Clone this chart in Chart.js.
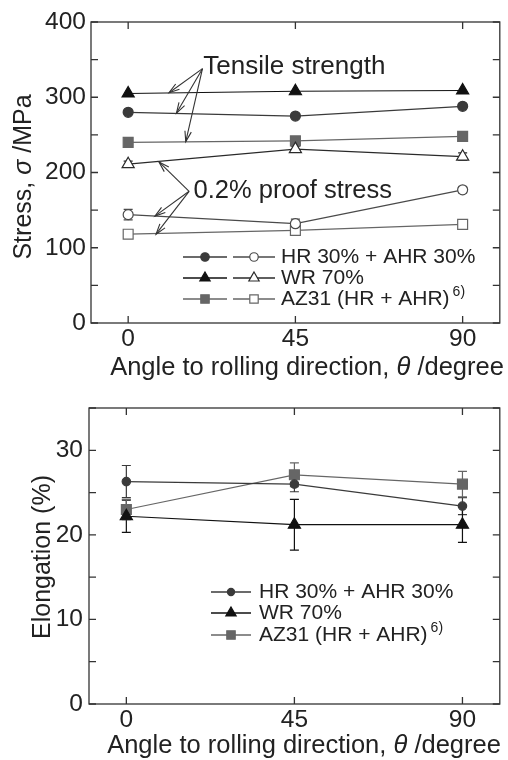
<!DOCTYPE html>
<html>
<head>
<meta charset="utf-8">
<script src="https://cdn.jsdelivr.net/npm/chart.js@4.4.1/dist/chart.umd.min.js"></script>
<style>
  html, body { margin: 0; padding: 0; background: #fff; }
  canvas { display: block; }
</style>
</head>
<body>
<canvas id="stress" width="508" height="380"></canvas>
<canvas id="elong" width="508" height="380"></canvas>
<script>
// ---- data ----
const angles = [0, 45, 90];
const xTicks = [0, 45, 90];

// stress (MPa)
const hrTensile = [280, 275, 288];
const hrProof = [144, 132, 177];
const hrProofErr = [7, 6, 4];
const wrTensile = [305, 308, 309];
const wrProof = [211, 231, 221];
const wrProofErr = [4, 4, 5];
const azTensile = [240, 242, 248];
const azProof = [118, 123, 131];
const azProofErr = [0, 0, 0];

// elongation (%)
const hrElong = [26.3, 26.0, 23.4];
const hrElongErr = [1.9, 0.9, 1.0];
const wrElong = [22.2, 21.2, 21.2];
const wrElongErr = [1.9, 3.0, 2.1];
const azElong = [23.0, 27.1, 26.0];
const azElongErr = [1.2, 1.4, 1.5];

const seriesNames = ['HR 30% + AHR 30%', 'WR 70%', 'AZ31 (HR + AHR)'];

// annotation arrows, in data units [x, y]
const tensileLabelAt = [20.2, 340];
const tensileArrowFrom = [20, 338];
const tensileArrowTo = [[11, 306], [13, 279], [15.5, 241]];
const proofLabelAt = [17.6, 176];
const proofArrowFrom = [16.4, 175];
const proofArrowTo = [[8.3, 214], [7.2, 142], [7.5, 118]];

const FONT = "'Liberation Sans', Arial, sans-serif";
const INK = '#222';

function makeSet(label, values, errors, color, style, radius, filled) {
  return {
    label: label,
    data: angles.map((a, i) => ({ x: a, y: values[i] })),
    errors: errors,
    showLine: true,
    borderColor: color,
    borderWidth: 1.2,
    pointStyle: style,
    pointRadius: radius,
    pointHoverRadius: radius,
    pointBackgroundColor: filled ? color : '#fff',
    pointBorderColor: color,
    pointBorderWidth: 1.2,
    clip: false
  };
}

function drawMarker(ctx, ds, x, y, scale) {
  ctx.save();
  ctx.fillStyle = ds.pointBackgroundColor;
  ctx.strokeStyle = ds.pointBorderColor;
  ctx.lineWidth = ds.pointBorderWidth;
  Chart.helpers.drawPoint(ctx, {
    pointStyle: ds.pointStyle,
    radius: ds.pointRadius * scale,
    rotation: 0,
    borderWidth: ds.pointBorderWidth
  }, x, y);
  ctx.restore();
}

function drawMixed(ctx, parts, x, y, align) {
  // parts: [text, italic, size]
  let total = 0;
  parts.forEach(p => { ctx.font = (p[1] ? 'italic ' : '') + p[2] + 'px ' + FONT; total += ctx.measureText(p[0]).width; });
  let cx = align === 'center' ? x - total / 2 : x;
  ctx.textAlign = 'left';
  parts.forEach(p => {
    ctx.font = (p[1] ? 'italic ' : '') + p[2] + 'px ' + FONT;
    ctx.fillText(p[0], cx, y);
    cx += ctx.measureText(p[0]).width;
  });
}

function arrow(ctx, x1, y1, x2, y2) {
  const ang = Math.atan2(y2 - y1, x2 - x1);
  const len = 11, spread = 0.3;
  ctx.beginPath();
  ctx.moveTo(x1, y1);
  ctx.lineTo(x2, y2);
  ctx.stroke();
  ctx.beginPath();
  ctx.moveTo(x2 - len * Math.cos(ang - spread), y2 - len * Math.sin(ang - spread));
  ctx.lineTo(x2, y2);
  ctx.lineTo(x2 - len * Math.cos(ang + spread), y2 - len * Math.sin(ang + spread));
  ctx.stroke();
}

// frame, inward ticks, error bars, titles, legend and notes
const decor = {
  id: 'decor',
  beforeDatasetsDraw(chart, args, opts) {
    const ctx = chart.ctx, xs = chart.scales.x, ys = chart.scales.y;
    ctx.save();
    chart.data.datasets.forEach((ds, i) => {
      if (!ds.errors) return;
      ctx.strokeStyle = ds.borderColor;
      ctx.lineWidth = 1.2;
      ds.data.forEach((p, j) => {
        const e = ds.errors[j];
        if (!e) return;
        const px = xs.getPixelForValue(p.x);
        const top = ys.getPixelForValue(p.y + e), bot = ys.getPixelForValue(p.y - e);
        ctx.beginPath();
        ctx.moveTo(px, top); ctx.lineTo(px, bot);
        ctx.moveTo(px - 4.5, top); ctx.lineTo(px + 4.5, top);
        ctx.moveTo(px - 4.5, bot); ctx.lineTo(px + 4.5, bot);
        ctx.stroke();
      });
    });
    ctx.restore();
  },
  afterDatasetsDraw(chart, args, opts) {
    const ctx = chart.ctx, a = chart.chartArea, xs = chart.scales.x, ys = chart.scales.y;
    ctx.save();
    ctx.strokeStyle = '#333';
    ctx.lineWidth = 1.3;
    ctx.strokeRect(a.left, a.top, a.right - a.left, a.bottom - a.top);
    const tl = 7;
    ctx.beginPath();
    xTicks.forEach(v => {
      const px = xs.getPixelForValue(v);
      ctx.moveTo(px, a.bottom); ctx.lineTo(px, a.bottom - tl);
      ctx.moveTo(px, a.top); ctx.lineTo(px, a.top + tl);
    });
    for (let v = ys.min; v <= ys.max; v += opts.yStep) {
      const py = ys.getPixelForValue(v);
      ctx.moveTo(a.left, py); ctx.lineTo(a.left + tl, py);
      ctx.moveTo(a.right, py); ctx.lineTo(a.right - tl, py);
    }
    ctx.stroke();

    // axis titles
    ctx.fillStyle = INK;
    ctx.textBaseline = 'alphabetic';
    drawMixed(ctx, [['Angle to rolling direction, ', false, 25.5], ['\u03b8', true, 25.5], [' /degree', false, 25.5]],
      opts.xTitle[0], opts.xTitle[1], 'center');
    ctx.save();
    ctx.translate(opts.yTitle[0], opts.yTitle[1]);
    ctx.rotate(-Math.PI / 2);
    drawMixed(ctx, opts.yTitleParts, 0, 0, 'center');
    ctx.restore();

    // notes with arrows
    if (opts.notes) {
      ctx.strokeStyle = '#333';
      ctx.lineWidth = 1.1;
      opts.notes.forEach(n => {
        const fx = xs.getPixelForValue(n.from[0]), fy = ys.getPixelForValue(n.from[1]);
        n.to.forEach(t => arrow(ctx, fx, fy, xs.getPixelForValue(t[0]), ys.getPixelForValue(t[1])));
        ctx.font = n.size + 'px ' + FONT;
        ctx.textAlign = 'left';
        ctx.textBaseline = 'middle';
        ctx.fillText(n.text, xs.getPixelForValue(n.at[0]), ys.getPixelForValue(n.at[1]));
      });
    }

    // legend
    const ds = chart.data.datasets;
    opts.legend.rows.forEach((row, r) => {
      const y = opts.legend.y[r];
      row.sets.forEach((k, s) => {
        const seg = opts.legend.segs[s];
        ctx.strokeStyle = ds[k].borderColor;
        ctx.lineWidth = 1.3;
        ctx.beginPath();
        ctx.moveTo(seg[0], y); ctx.lineTo(seg[1], y);
        ctx.stroke();
        drawMarker(ctx, ds[k], (seg[0] + seg[1]) / 2, y, 0.85);
      });
      ctx.fillStyle = INK;
      ctx.font = '21px ' + FONT;
      ctx.textAlign = 'left';
      ctx.textBaseline = 'middle';
      ctx.fillText(row.text, opts.legend.textX, y);
      if (row.sup) {
        const w = ctx.measureText(row.text).width;
        ctx.font = '14px ' + FONT;
        ctx.fillText(row.sup, opts.legend.textX + w + 3, y - 7);
      }
    });
    ctx.restore();
  }
};

function scalesFor(yMin, yMax, yStep, yLabelStep, yWidth, xHeight, yPad) {
  return {
    x: {
      type: 'linear', min: -10, max: 100,
      afterBuildTicks: s => { s.ticks = xTicks.map(v => ({ value: v })); },
      afterFit: s => { s.height = xHeight; },
      grid: { display: false, drawTicks: false },
      border: { display: false },
      ticks: { autoSkip: false, maxRotation: 0, padding: 2, color: INK, font: { family: FONT, size: 24.5 } }
    },
    y: {
      type: 'linear', min: yMin, max: yMax,
      afterFit: s => { s.width = yWidth; },
      grid: { display: false, drawTicks: false },
      border: { display: false },
      ticks: {
        stepSize: yStep, autoSkip: false, padding: yPad, color: INK,
        font: { family: FONT, size: 24.5 },
        callback: v => (v % yLabelStep === 0 ? String(v) : '')
      }
    }
  };
}

const base = {
  responsive: false,
  animation: false,
  events: [],
  plugins: { legend: { display: false }, tooltip: { enabled: false } }
};

new Chart(document.getElementById('stress'), {
  type: 'scatter',
  data: {
    datasets: [
      makeSet(seriesNames[0] + ' tensile', hrTensile, null, '#3a3a3a', 'circle', 5, true),
      makeSet(seriesNames[0] + ' proof', hrProof, hrProofErr, '#4a4a4a', 'circle', 5, false),
      makeSet(seriesNames[1] + ' tensile', wrTensile, null, '#111', 'triangle', 7, true),
      makeSet(seriesNames[1] + ' proof', wrProof, wrProofErr, '#2a2a2a', 'triangle', 7, false),
      makeSet(seriesNames[2] + ' tensile', azTensile, null, '#666', 'rect', 7, true),
      makeSet(seriesNames[2] + ' proof', azProof, azProofErr, '#666', 'rect', 7, false)
    ]
  },
  options: Object.assign({}, base, {
    layout: { padding: { left: 0, top: 22, right: 1, bottom: 0 } },
    scales: scalesFor(0, 400, 50, 100, 91, 57, 5),
    plugins: Object.assign({}, base.plugins, {
      decor: {
        yStep: 50,
        xTitle: [307, 375],
        yTitle: [31, 177],
        yTitleParts: [['Stress, ', false, 25], ['\u03c3', true, 25], [' /MPa', false, 25]],
        notes: [
          { text: 'Tensile strength', size: 26, at: tensileLabelAt, from: tensileArrowFrom, to: tensileArrowTo },
          { text: '0.2% proof stress', size: 25.5, at: proofLabelAt, from: proofArrowFrom, to: proofArrowTo }
        ],
        legend: {
          y: [257, 278, 299],
          segs: [[183, 227], [233, 275]],
          textX: 281,
          rows: [
            { sets: [0, 1], text: seriesNames[0] },
            { sets: [2, 3], text: seriesNames[1] },
            { sets: [4, 5], text: seriesNames[2], sup: '6)' }
          ]
        }
      }
    })
  }),
  plugins: [decor]
});

new Chart(document.getElementById('elong'), {
  type: 'scatter',
  data: {
    datasets: [
      makeSet(seriesNames[0], hrElong, hrElongErr, '#3a3a3a', 'circle', 4.2, true),
      makeSet(seriesNames[1], wrElong, wrElongErr, '#111', 'triangle', 7, true),
      makeSet(seriesNames[2], azElong, azElongErr, '#666', 'rect', 7, true)
    ]
  },
  options: Object.assign({}, base, {
    layout: { padding: { left: 0, top: 28, right: 3, bottom: 0 } },
    scales: scalesFor(0, 35, 5, 10, 89, 56, 6),
    plugins: Object.assign({}, base.plugins, {
      decor: {
        yStep: 5,
        xTitle: [304, 373],
        yTitle: [50, 177],
        yTitleParts: [['Elongation (%)', false, 25]],
        legend: {
          y: [212, 233, 255],
          segs: [[211, 251]],
          textX: 259,
          rows: [
            { sets: [0], text: seriesNames[0] },
            { sets: [1], text: seriesNames[1] },
            { sets: [2], text: seriesNames[2], sup: '6)' }
          ]
        }
      }
    })
  }),
  plugins: [decor]
});
</script>
</body>
</html>
